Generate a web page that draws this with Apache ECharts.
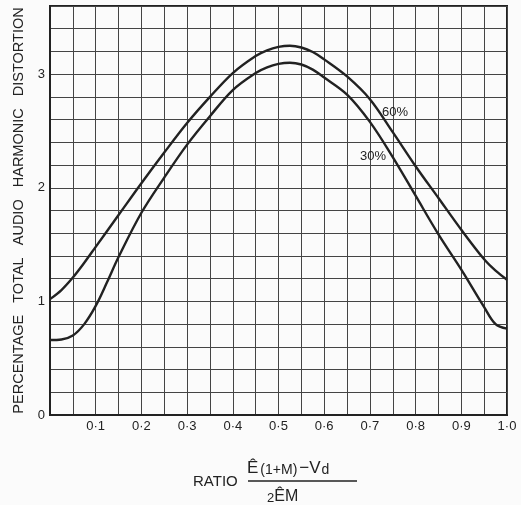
<!DOCTYPE html>
<html><head><meta charset="utf-8">
<script src="https://cdn.jsdelivr.net/npm/echarts@6/dist/echarts.min.js"></script>
<style>html,body{margin:0;padding:0;background:#fbfbfb;}#c{width:521px;height:505px;}</style>
</head><body><div id="c"></div>
<script>
const xTickLabels = ['0·1','0·2','0·3','0·4','0·5','0·6','0·7','0·8','0·9','1·0'];
const yTickLabels = ['0','1','2','3'];
const ratio60 = [0, 0.025, 0.05, 0.075, 0.1, 0.15, 0.2, 0.25, 0.3, 0.35, 0.4, 0.45, 0.475, 0.5, 0.525, 0.55, 0.575, 0.6, 0.65, 0.7, 0.75, 0.8, 0.85, 0.9, 0.95, 0.975, 1.0];
const thd60   = [1.02, 1.10, 1.21, 1.34, 1.48, 1.76, 2.04, 2.31, 2.57, 2.80, 3.01, 3.16, 3.21, 3.24, 3.25, 3.235, 3.195, 3.13, 2.98, 2.78, 2.49, 2.19, 1.91, 1.63, 1.37, 1.27, 1.19];
const ratio30 = [0, 0.025, 0.05, 0.075, 0.1, 0.125, 0.15, 0.2, 0.25, 0.3, 0.35, 0.4, 0.45, 0.475, 0.5, 0.525, 0.55, 0.575, 0.6, 0.65, 0.7, 0.75, 0.8, 0.85, 0.9, 0.95, 0.975, 1.0];
const thd30   = [0.66, 0.665, 0.70, 0.80, 0.96, 1.17, 1.39, 1.78, 2.09, 2.38, 2.63, 2.86, 3.01, 3.06, 3.09, 3.10, 3.085, 3.04, 2.97, 2.82, 2.58, 2.27, 1.93, 1.59, 1.28, 0.95, 0.80, 0.76];
const seriesNames = ['60%', '30%'];

const ink = '#222';
const chart = echarts.init(document.getElementById('c'), null, {renderer:'canvas'});
const fmtX = v => {
  const k = Math.round(v * 20);
  if (k === 0 || k % 2 !== 0) return '';
  return xTickLabels[k / 2 - 1];
};
const fmtY = v => {
  const r = Math.round(v * 5);
  if (r % 5 !== 0) return '';
  return yTickLabels[r / 5] || '';
};
const F = 'Liberation Sans';
chart.setOption({
  backgroundColor: '#fbfbfb',
  animation: false,
  grid: {left: 50, right: 14, top: 6, bottom: 90, show: true, borderColor: ink, borderWidth: 2},
  xAxis: {
    type: 'value', min: 0, max: 1, interval: 0.05,
    axisLine: {show: true, lineStyle: {color: ink, width: 2}},
    axisTick: {show: false},
    splitLine: {show: true, lineStyle: {color: '#444', width: 1}},
    axisLabel: {formatter: fmtX, color: ink, fontFamily: F, fontSize: 13, margin: 5, showMaxLabel: true}
  },
  yAxis: {
    type: 'value', min: 0, max: 3.6, interval: 0.2,
    axisLine: {show: true, lineStyle: {color: ink, width: 2}},
    axisTick: {show: false},
    splitLine: {show: true, lineStyle: {color: '#444', width: 1}},
    axisLabel: {formatter: fmtY, color: ink, fontFamily: F, fontSize: 13, margin: 5},
    name: 'PERCENTAGE   TOTAL   AUDIO   HARMONIC   DISTORTION',
    nameLocation: 'middle', nameRotate: 90, nameGap: 23,
    nameTextStyle: {color: ink, fontFamily: F, fontSize: 14.5}
  },
  series: [
    {name: seriesNames[0], type: 'line', smooth: 0.35, symbol: 'none',
     data: ratio60.map((x, i) => [x, thd60[i]]),
     lineStyle: {color: ink, width: 2.4},
     markPoint: {symbol: 'rect', symbolSize: 0, data: [{coord: [0.755, 2.66], label: {show: true, formatter: '60%', color: ink, fontFamily: F, fontSize: 13}}]}
    },
    {name: seriesNames[1], type: 'line', smooth: 0.35, symbol: 'none',
     data: ratio30.map((x, i) => [x, thd30[i]]),
     lineStyle: {color: ink, width: 2.4},
     markPoint: {symbol: 'rect', symbolSize: 0, data: [{coord: [0.707, 2.28], label: {show: true, formatter: '30%', color: ink, fontFamily: F, fontSize: 13}}]}
    }
  ],
  graphic: [
    {type: 'text', left: 193, top: 474, style: {text: 'RATIO', fill: ink, font: '15px "Liberation Sans"'}},
    {type: 'line', shape: {x1: 248, y1: 481, x2: 357, y2: 481}, style: {stroke: ink, lineWidth: 1.6}},
    {type: 'text', left: 247, top: 460, style: {
      text: '{b|Ê}{s|(1+M)}{b|−V}{sub|d}',
      rich: {
        b: {fontSize: 17, lineHeight: 17, fontFamily: F, fill: ink, verticalAlign: 'bottom'},
        s: {fontSize: 14, lineHeight: 14, fontFamily: F, fill: ink, verticalAlign: 'bottom', padding: [0, 2, 0, 2]},
        sub: {fontSize: 14, lineHeight: 14, fontFamily: F, fill: ink, verticalAlign: 'bottom', padding: [0, 0, 0, 1]}
      }
    }},
    {type: 'text', left: 267, top: 489, style: {
      text: '{s|2}{b|ÊM}',
      rich: {
        b: {fontSize: 16, lineHeight: 16, fontFamily: F, fill: ink, verticalAlign: 'bottom'},
        s: {fontSize: 13, lineHeight: 13, fontFamily: F, fill: ink, verticalAlign: 'bottom'}
      }
    }}
  ]
});
</script></body></html>
